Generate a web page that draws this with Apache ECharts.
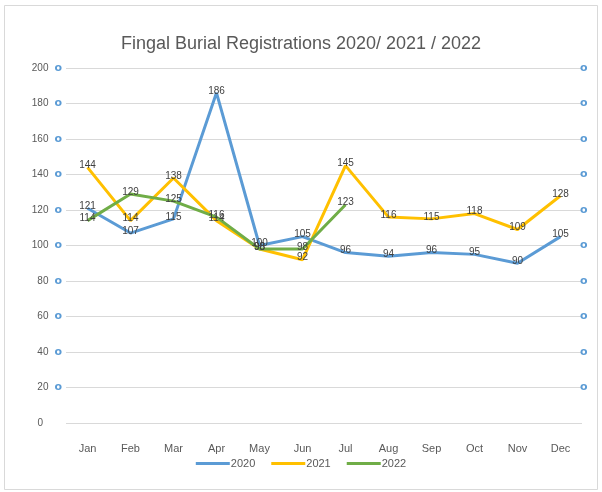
<!DOCTYPE html>
<html>
<head>
<meta charset="utf-8">
<script src="https://cdn.jsdelivr.net/npm/echarts@6/dist/echarts.min.js"></script>
<style>html,body{margin:0;padding:0;background:#fff}#c{width:602px;height:492px}</style>
</head>
<body>
<div id="c"></div>
<script>
var months = ['Jan','Feb','Mar','Apr','May','Jun','Jul','Aug','Sep','Oct','Nov','Dec'];
var s2020 = [121,107,115,186,100,105,96,94,96,95,90,105];
var s2021 = [144,114,138,114,98,92,145,116,115,118,109,128];
var s2022 = [114,129,125,116,98,98,123,null,null,null,null,null];
var seriesNames = ['2020','2021','2022'];
var colors = ['#5b9bd5','#ffc000','#70ad47'];

var font = '"Liberation Sans Narrow","Liberation Sans",sans-serif';
var chart = echarts.init(document.getElementById('c'));
function mk(name, data, color) {
  return {
    name: name, type: 'line', data: data, yAxisIndex: 0,
    symbol: 'circle', symbolSize: 0, showSymbol: true, smooth: false, connectNulls: false,
    lineStyle: {width: 3, color: color},
    itemStyle: {color: color},
    label: {show: true, position: 'top', distance: -3, color: '#404040', fontSize: 10, fontFamily: font},
    labelLayout: {hideOverlap: false},
    z: 3
  };
}
chart.setOption({
  animation: false,
  backgroundColor: '#fff',
  graphic: [{type: 'rect', shape: {x: 4.5, y: 5.5, width: 593, height: 484}, style: {fill: 'none', stroke: '#d9d9d9', lineWidth: 1}, silent: true, z: -1}],
  title: {text: 'Fingal Burial Registrations 2020/ 2021 / 2022', left: 'center', top: 30,
    textStyle: {fontFamily: font, fontSize: 18, fontWeight: 'normal', color: '#595959'}},
  grid: {left: 66, right: 20, top: 68, bottom: 69, containLabel: false},
  legend: {bottom: 18, left: 'center', itemWidth: 34, itemHeight: 3, itemGap: 16, icon: 'rect',
    textStyle: {fontFamily: font, fontSize: 11, color: '#595959', padding: [0,0,0,-4]},
    data: seriesNames},
  xAxis: {type: 'category', data: months, boundaryGap: true,
    axisLine: {show: false}, axisTick: {show: false},
    axisLabel: {color: '#595959', fontSize: 11, fontFamily: font, margin: 20}},
  yAxis: [
    {type: 'value', min: 0, max: 200, interval: 20,
      axisLine: {show: false}, axisTick: {show: false},
      splitLine: {lineStyle: {color: '#d9d9d9', width: 1}},
      axisLabel: {margin: 4, fontSize: 10, fontFamily: font, color: '#595959',
        formatter: function(v){ return v === 0 ? '{a|0}{s|}' : '{a|' + v + '}{b|o}'; },
        rich: {a: {fontSize: 10, fontFamily: font, color: '#595959', padding: [0,6,0,0]},
               b: {fontSize: 11, fontWeight: 'bold', color: '#5b9bd5', fontFamily: 'DejaVu Sans'},
               s: {width: 13}}}},
    {type: 'value', min: 0, max: 200, interval: 20, position: 'right',
      axisLine: {show: false}, axisTick: {show: false}, splitLine: {show: false},
      axisLabel: {margin: -2, fontSize: 11, fontWeight: 'bold', color: '#5b9bd5', fontFamily: 'DejaVu Sans',
        formatter: function(v){ return v === 0 ? '' : 'o'; }}}
  ],
  series: [mk(seriesNames[0], s2020, colors[0]), mk(seriesNames[1], s2021, colors[1]), mk(seriesNames[2], s2022, colors[2]),
    {type: 'line', yAxisIndex: 1, data: [], silent: true}]
});
</script>
</body>
</html>
